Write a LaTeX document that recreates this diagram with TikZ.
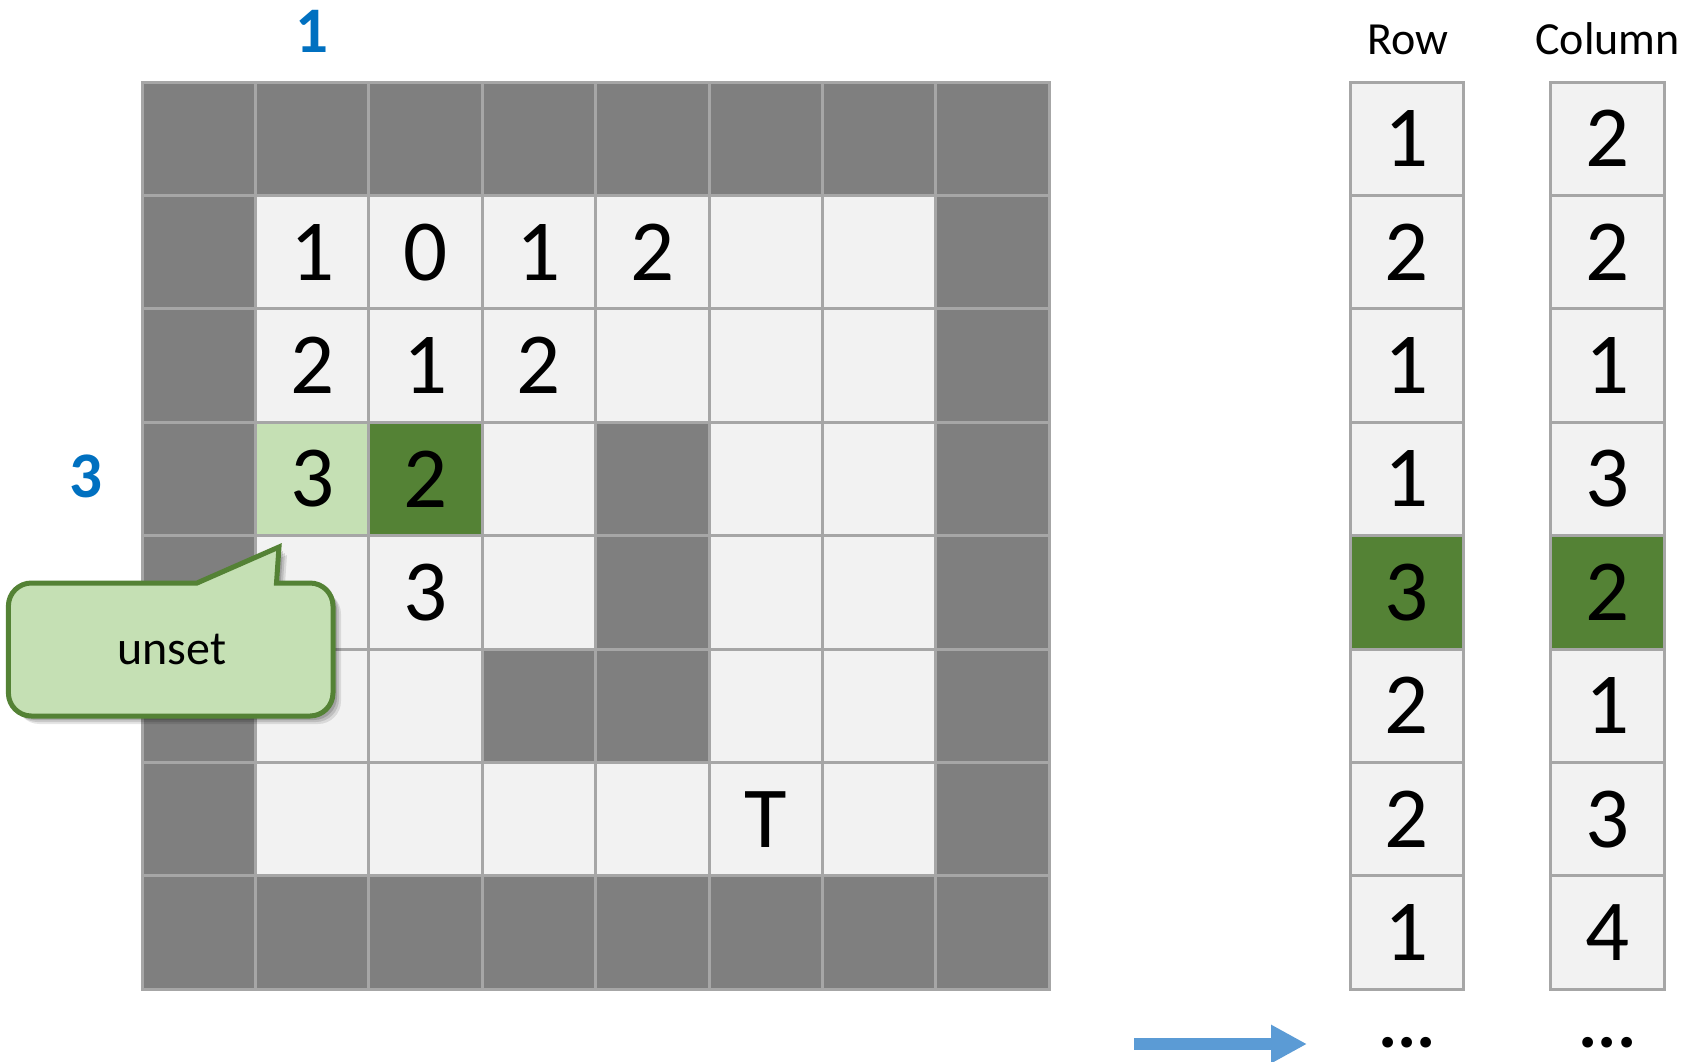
\documentclass[tikz,border=0pt]{standalone}
\usepackage{fontspec}
\setmainfont{Carlito}
\usetikzlibrary{arrows.meta}
\definecolor{dkGray}{HTML}{7F7F7F}
\definecolor{lnGray}{HTML}{A6A6A6}
\definecolor{ltGray}{HTML}{F2F2F2}
\definecolor{paleGreen}{HTML}{C5E0B4}
\definecolor{dkGreen}{HTML}{548235}
\definecolor{lblBlue}{HTML}{0070C0}
\definecolor{arrBlue}{HTML}{5B9BD5}
\tikzset{
  cell/.style={draw=lnGray, line width=3pt, minimum size=113.4pt, inner sep=0pt,
    font=\fontsize{87}{90}\selectfont},
  cD/.style={fill=dkGray},
  cL/.style={fill=ltGray},
  cP/.style={fill=paleGreen},
  cG/.style={fill=dkGreen},
  idxlabel/.style={anchor=base, text=lblBlue, inner sep=0pt, font=\bfseries\fontsize{65}{70}\selectfont},
  header/.style={anchor=base, inner sep=0pt, font=\fontsize{46}{50}\selectfont},
  dotstext/.style={anchor=base, inner sep=0pt, font=\bfseries\fontsize{72}{76}\selectfont},
  calloutshape/.style={insert path={
    (31.4,583) -- (197,583) -- (279,547) -- (276.5,583) -- (310,583)
    arc[start angle=270,end angle=360,radius=23] -- (333,693)
    arc[start angle=0,end angle=90,radius=23] -- (31.4,716)
    arc[start angle=90,end angle=180,radius=23] -- (8.4,606)
    arc[start angle=180,end angle=270,radius=23] -- cycle}},
}
\begin{document}
\begin{tikzpicture}[x=1pt,y=-1pt]
\useasboundingbox (0,0) rectangle (1700,1061);
% main grid
\foreach \rowspec [count=\ri from 0] in {
  {cD/{},cD/{},cD/{},cD/{},cD/{},cD/{},cD/{},cD/{}},
  {cD/{},cL/1,cL/0,cL/1,cL/2,cL/{},cL/{},cD/{}},
  {cD/{},cL/2,cL/1,cL/2,cL/{},cL/{},cL/{},cD/{}},
  {cD/{},cP/3,cG/2,cL/{},cD/{},cL/{},cL/{},cD/{}},
  {cD/{},cL/{},cL/3,cL/{},cD/{},cL/{},cL/{},cD/{}},
  {cD/{},cL/{},cL/{},cD/{},cD/{},cL/{},cL/{},cD/{}},
  {cD/{},cL/{},cL/{},cL/{},cL/{},cL/T,cL/{},cD/{}},
  {cD/{},cD/{},cD/{},cD/{},cD/{},cD/{},cD/{},cD/{}}}
{
  \foreach \st/\tx [count=\ci from 0] in \rowspec {
    \node[cell,\st] (g\ri\ci) at ({142+113.4*(\ci+0.5)},{82+113.4*(\ri+0.5)}) {\tx};
  }
}
% index labels
\node[idxlabel] (colidx) at (312,52) {1};
\node[idxlabel] (rowidx) at (85.5,497) {3};
% right stacks
\node[header] (rowhead) at (1407.5,54) {Row};
\node[header] (colhead) at (1607.5,54) {Column};
\foreach \st/\v [count=\i from 0] in {cL/1,cL/2,cL/1,cL/1,cG/3,cL/2,cL/2,cL/1}{
  \node[cell,\st] (r\i) at (1407,{82+113.4*(\i+0.5)}) {\v};
}
\foreach \st/\v [count=\i from 0] in {cL/2,cL/2,cL/1,cL/3,cG/2,cL/1,cL/3,cL/4}{
  \node[cell,\st] (k\i) at (1607.5,{82+113.4*(\i+0.5)}) {\v};
}
\node[dotstext] (rdots) at (1407,1047) {...};
\node[dotstext] (kdots) at (1607.5,1047) {...};
% arrow
\coordinate (arrS) at (1134,1044);
\coordinate (arrE) at (1307,1044);
\draw[arrBlue, line width=12pt, -{Triangle[length=36pt,width=36pt]}] (arrS) -- (arrE);
% callout shadow
\foreach \d/\o in {8/0.10,6/0.12,4/0.15}{
  \fill[black, opacity=\o, shift={(\d,\d)}, calloutshape];
}
\filldraw[fill=paleGreen, draw=dkGreen, line width=5pt, line join=miter, calloutshape];
\node[anchor=base, inner sep=0pt, font=\fontsize{48}{52}\selectfont] (unset) at (172,664) {unset};
\end{tikzpicture}
\end{document}
